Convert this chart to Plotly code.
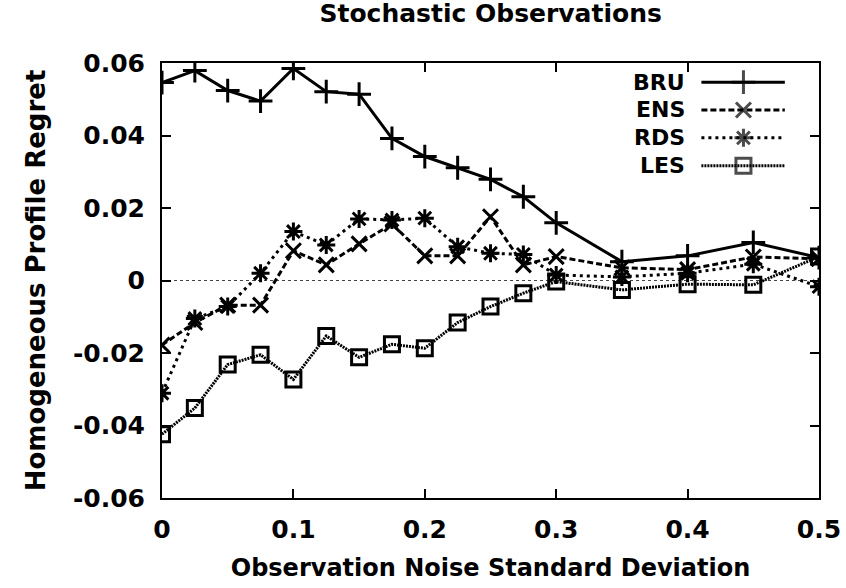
import plotly.graph_objects as go

# noise standard deviation (x) and regret of each method
noise_sd = [0, 0.025, 0.05, 0.075, 0.1, 0.125, 0.15, 0.175, 0.2, 0.225, 0.25,
            0.275, 0.3, 0.35, 0.4, 0.45, 0.5]
bru = [0.0546, 0.0579, 0.0524, 0.0495, 0.0585, 0.0521, 0.0514, 0.0392, 0.0342,
       0.0311, 0.0279, 0.0231, 0.0159, 0.0052, 0.0068, 0.0105, 0.0063]
ens = [-0.0178, -0.0116, -0.0068, -0.0068, 0.0082, 0.0043, 0.0101, 0.0156, 0.0068,
       0.0068, 0.0176, 0.0043, 0.0066, 0.0035, 0.0030, 0.0065, 0.0060]
rds = [-0.0311, -0.0105, -0.0072, 0.0020, 0.0135, 0.0098, 0.0170, 0.0167, 0.0172,
       0.0093, 0.0075, 0.0072, 0.0015, 0.0010, 0.0020, 0.0045, -0.0017]
les = [-0.0424, -0.0352, -0.0232, -0.0205, -0.0273, -0.0153, -0.0212, -0.0176, -0.0187,
       -0.0116, -0.0072, -0.0035, -0.0003, -0.0026, -0.0010, -0.0012, 0.0066]

method_names = ["BRU", "ENS", "RDS", "LES"]
x_tickvals = [0, 0.1, 0.2, 0.3, 0.4, 0.5]
x_ticktext = ["0", "0.1", "0.2", "0.3", "0.4", "0.5"]
y_tickvals = [-0.06, -0.04, -0.02, 0, 0.02, 0.04, 0.06]
y_ticktext = ["-0.06", "-0.04", "-0.02", "0", "0.02", "0.04", "0.06"]

FONT = "DejaVu Sans, Liberation Sans, Arial, sans-serif"
STYLES = {
    "BRU": dict(dash="solid", symbol="cross-thin", size=17),
    "ENS": dict(dash="6px,3px", symbol="x-thin", size=15),
    "RDS": dict(dash="3px,4px", symbol="asterisk", size=15),
    "LES": dict(dash="2px,1px", symbol="square-open", size=15),
}

fig = go.Figure()
for name, ys in zip(method_names, [bru, ens, rds, les]):
    st = STYLES[name]
    fig.add_trace(go.Scatter(
        x=noise_sd, y=ys, mode="lines+markers", name=name,
        line=dict(color="black", width=3, dash=st["dash"]),
        marker=dict(symbol=st["symbol"], size=st["size"], color="black",
                    line=dict(color="black", width=3)),
        showlegend=False,
    ))

# gnuplot-style key: label on the left, sample line on the right
key_rows = [0.956, 0.892, 0.828, 0.764]
for name, ky in zip(method_names, key_rows):
    st = STYLES[name]
    fig.add_trace(go.Scatter(
        x=[0.821, 0.885, 0.948], y=[ky, ky, ky], xaxis="x2", yaxis="y2",
        mode="lines+markers", showlegend=False, hoverinfo="skip",
        line=dict(color="black", width=3, dash=st["dash"]),
        marker=dict(symbol=st["symbol"], size=[0, st["size"], 0], color="black",
                    line=dict(color="black", width=3)),
    ))
    fig.add_annotation(x=0.798, y=ky, xref="paper", yref="paper", text=name,
                       showarrow=False, xanchor="right", yanchor="middle",
                       borderpad=0,
                       font=dict(size=22, family=FONT, color="black", weight="bold"))

fig.add_shape(type="line", xref="paper", yref="y", x0=0, x1=1, y0=0, y1=0,
              line=dict(color="#444", width=1, dash="dot"), layer="below")

fig.update_layout(
    width=846, height=588,
    margin=dict(l=162, r=27, t=63, b=90),
    paper_bgcolor="white", plot_bgcolor="white",
    font=dict(family=FONT, size=25, color="black", weight="bold"),
    title=dict(text="Stochastic Observations", x=0.58, xanchor="center",
               y=0.978, yanchor="middle", yref="container",
               font=dict(size=25, family=FONT, weight="bold")),
    xaxis=dict(
        range=[0, 0.5], tickvals=x_tickvals, ticktext=x_ticktext,
        showgrid=False, zeroline=False, automargin=False,
        showline=True, linecolor="black", linewidth=2, mirror="ticks",
        ticks="inside", ticklen=9, tickwidth=1.5, tickcolor="black",
        ticklabelstandoff=8,
        title=dict(text="Observation Noise Standard Deviation", standoff=16,
                   font=dict(size=24, family=FONT, weight="bold")),
    ),
    yaxis=dict(
        range=[-0.06, 0.06], tickvals=y_tickvals, ticktext=y_ticktext,
        showgrid=False, zeroline=False, automargin=False,
        showline=True, linecolor="black", linewidth=2, mirror="ticks",
        ticks="inside", ticklen=9, tickwidth=1.5, tickcolor="black",
        ticklabelstandoff=10,
        title=dict(text="Homogeneous Profile Regret", standoff=20,
                   font=dict(size=26, family=FONT, weight="bold")),
    ),
    xaxis2=dict(range=[0, 1], overlaying="x", visible=False, fixedrange=True),
    yaxis2=dict(range=[0, 1], overlaying="y", visible=False, fixedrange=True),
)

fig.write_html("out.html", config={"displayModeBar": False},
               post_script="document.body.style.margin='0px';")
